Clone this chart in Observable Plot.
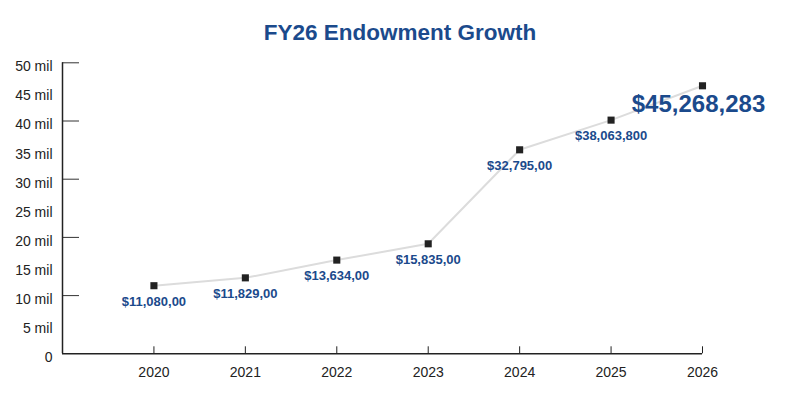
<!DOCTYPE html>
<html>
<head>
<meta charset="utf-8">
<script src="https://cdn.jsdelivr.net/npm/d3@7"></script>
<script src="https://cdn.jsdelivr.net/npm/@observablehq/plot@0.6"></script>
<style>
  body { margin: 0; background: #fff; font-family: "Liberation Sans", Arial, sans-serif; }
  #title { height: 50px; box-sizing: border-box; padding-top: 21px; line-height: 24px; text-align: center;
           font-size: 22.5px; font-weight: bold; color: #1b4a8c; width: 800px; }
</style>
</head>
<body>
<div id="title">FY26 Endowment Growth</div>
<div id="chart"></div>
<script>
const years = [2020, 2021, 2022, 2023, 2024, 2025, 2026];
const values = [11.7, 13.05, 16.1, 18.9, 35.05, 40.15, 46.05]; // millions
const labels = ["$11,080,00", "$11,829,00", "$13,634,00", "$15,835,00", "$32,795,00", "$38,063,800", "$45,268,283"];
const yLabelTicks = [0, 5, 10, 15, 20, 25, 30, 35, 40, 45, 50];
const yMarkTicks = [10, 20, 30, 40, 50];

const data = years.map((y, i) => ({year: y, value: values[i], label: labels[i], last: i === years.length - 1}));
const blue = "#1b4a8c";

const plot = Plot.plot({
  width: 800,
  height: 351,
  marginTop: 12.3,
  marginBottom: 47.7,
  marginLeft: 62,
  marginRight: 98,
  style: {fontFamily: "Liberation Sans, Arial, sans-serif", fontSize: "14px", color: "#222"},
  x: {domain: [2019, 2026]},
  y: {domain: [0, 50]},
  marks: [
    Plot.axisY({ticks: yLabelTicks, tickSize: 0, tickPadding: 10, dy: 4, tickFormat: d => d === 0 ? "0" : `${d} mil`, label: null, fill: "#222", fontSize: 14}),
    Plot.axisY({ticks: yMarkTicks, tickSize: -17, tickFormat: () => "", label: null, stroke: "#333"}),
    Plot.axisX({ticks: years, tickSize: -7, tickPadding: 20, tickFormat: d => String(d), label: null, stroke: "#222", fill: "#222", fontSize: 14}),
    Plot.ruleX([2019], {y1: 0, y2: 50, stroke: "#222", strokeWidth: 1.5}),
    Plot.ruleY([0], {x1: 2019, x2: 2026, stroke: "#222", strokeWidth: 1.5}),
    Plot.line(data, {x: "year", y: "value", stroke: "#dcdcdc", strokeWidth: 2}),
    Plot.dot(data, {x: "year", y: "value", symbol: "square", r: 4, fill: "#222", stroke: "none"}),
    Plot.text(data.filter(d => !d.last), {x: "year", y: "value", text: "label", dy: 16, fill: blue, fontWeight: "bold", fontSize: 13}),
    Plot.text(data.filter(d => d.last), {x: "year", y: "value", text: "label", dy: 19, dx: -4, fill: blue, fontWeight: "bold", fontSize: 24})
  ]
});
document.getElementById("chart").appendChild(plot);
</script>
</body>
</html>
